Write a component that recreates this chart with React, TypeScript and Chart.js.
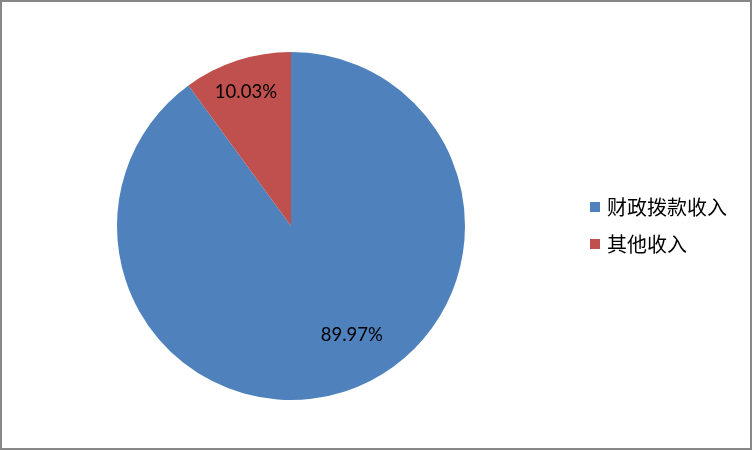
import React, { useEffect, useRef } from "react";
import { Chart, registerables } from "chart.js";

Chart.register(...registerables);

const categories = ["财政拨款收入", "其他收入"];
const values = [89.97, 10.03];
const valueLabels = ["89.97%", "10.03%"];
const colors = ["#4F81BD", "#C0504D"];
// label placement: radial fraction and angular offset (degrees) from slice mid-angle
const labelRadial = [0.72, 0.81];
const labelAngleOffset = [-11, -0.6];

const W = 753;
const H = 451;

const labelPlugin = {
  id: "sliceLabels",
  afterDatasetsDraw(chart: any) {
    const ctx = chart.ctx;
    const meta = chart.getDatasetMeta(0);
    ctx.save();
    ctx.font = "18.5px Lato, 'Open Sans', sans-serif";
    ctx.fillStyle = "#000";
    ctx.textAlign = "center";
    ctx.textBaseline = "middle";
    meta.data.forEach((arc: any, i: number) => {
      const p = arc.getProps(["x", "y", "startAngle", "endAngle", "outerRadius"], true);
      const mid = (p.startAngle + p.endAngle) / 2 + (labelAngleOffset[i] * Math.PI) / 180;
      const r = p.outerRadius * labelRadial[i];
      ctx.fillText(valueLabels[i], p.x + Math.cos(mid) * r, p.y + Math.sin(mid) * r);
    });
    ctx.restore();
  },
};

const legendPlugin = {
  id: "customLegend",
  afterDraw(chart: any) {
    const ctx = chart.ctx;
    ctx.save();
    ctx.font = "20px 'Noto Sans CJK SC', sans-serif";
    ctx.textBaseline = "middle";
    ctx.textAlign = "left";
    const x0 = 590;
    const yStart = 207;
    const gap = 37;
    categories.forEach((c, i) => {
      const y = yStart + i * gap;
      ctx.fillStyle = colors[i];
      ctx.fillRect(x0, y - 5, 10, 10);
      ctx.fillStyle = "#000";
      ctx.fillText(c, x0 + 17, y);
    });
    ctx.restore();
  },
};

export default function App() {
  const ref = useRef<HTMLCanvasElement>(null);
  useEffect(() => {
    if (!ref.current) return;
    const chart = new Chart(ref.current, {
      type: "pie",
      data: {
        labels: categories,
        datasets: [
          {
            data: values,
            backgroundColor: colors,
            borderWidth: 0,
          },
        ],
      },
      options: {
        responsive: false,
        animation: false,
        layout: { padding: { left: 117, right: 288, top: 52, bottom: 51 } },
        plugins: {
          legend: { display: false },
          tooltip: { enabled: false },
        },
      },
      plugins: [labelPlugin, legendPlugin],
    });
    return () => chart.destroy();
  }, []);
  return (
    <div
      style={{
        position: "fixed",
        left: 0,
        top: 0,
        width: W,
        height: H,
        background: "#fff",
      }}
    >
      <canvas ref={ref} width={W} height={H} style={{ display: "block" }} />
      <div
        style={{
          position: "absolute",
          left: 0,
          top: 0,
          width: W - 1,
          height: H - 1,
          boxSizing: "border-box",
          border: "2px solid #878787",
          pointerEvents: "none",
        }}
      />
    </div>
  );
}
